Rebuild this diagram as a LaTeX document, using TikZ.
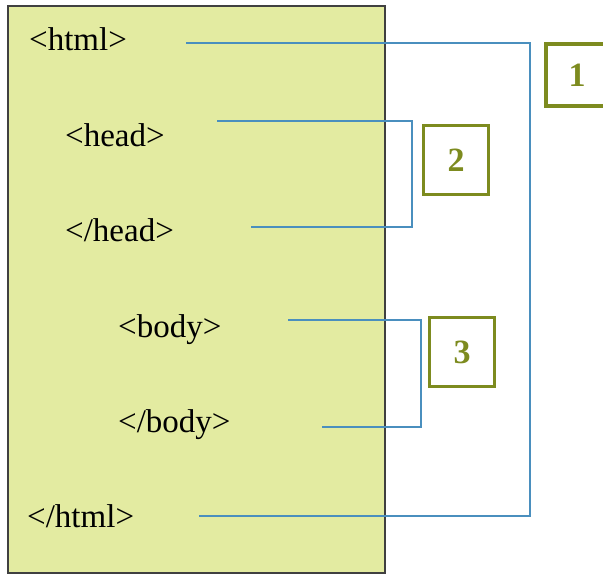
\documentclass[tikz,border=0pt]{standalone}
\usepackage{fontspec}
\setmainfont{Liberation Serif}
\definecolor{tagfill}{HTML}{E3EBA1}
\definecolor{linkblue}{HTML}{4A8FBE}
\definecolor{numolive}{HTML}{7D8B1F}
\begin{document}
\begin{tikzpicture}[x=1pt,y=-1pt,
  tag/.style={anchor=base west,inner sep=0pt,font=\fontsize{33}{40}\selectfont},
  link/.style={draw=linkblue,line width=2pt},
  numbox/.style={draw=numolive,line width=3.5pt,text=numolive,inner sep=0pt,
    minimum width=65pt,minimum height=69pt,font=\fontsize{34}{40}\selectfont\bfseries}]
\useasboundingbox (0,0) rectangle (603,574);
\clip (0,0) rectangle (603,574);
\draw[fill=tagfill,draw=black!75,line width=1.2pt] (8,6) rectangle (385,573);
\foreach \name/\txt/\xcorr in {html/{<html>}/{29,50}, head/{<head>}/{65,146},
    endhead/{</head>}/{65,241}, body/{<body>}/{118,337},
    endbody/{</body>}/{118,432}, endhtml/{</html>}/{27,527}}
{
    \node[tag] (\name) at (\xcorr) {\txt};
}
\node[numbox,minimum width=62pt,minimum height=62pt] (one) at (577,75) {1};
\node[numbox] (two) at (456,160) {2};
\node[numbox] (three) at (462,352) {3};
\coordinate (htmlA) at (186,43);
\coordinate (htmlB) at (199,516);
\coordinate (headA) at (217,121);
\coordinate (headB) at (251,227);
\coordinate (bodyA) at (288,320);
\coordinate (bodyB) at (322,427);
\draw[link] (htmlA) -- (530,43) |- (htmlB);
\draw[link] (headA) -- (412,121) |- (headB);
\draw[link] (bodyA) -- (421,320) |- (bodyB);
\end{tikzpicture}
\end{document}
